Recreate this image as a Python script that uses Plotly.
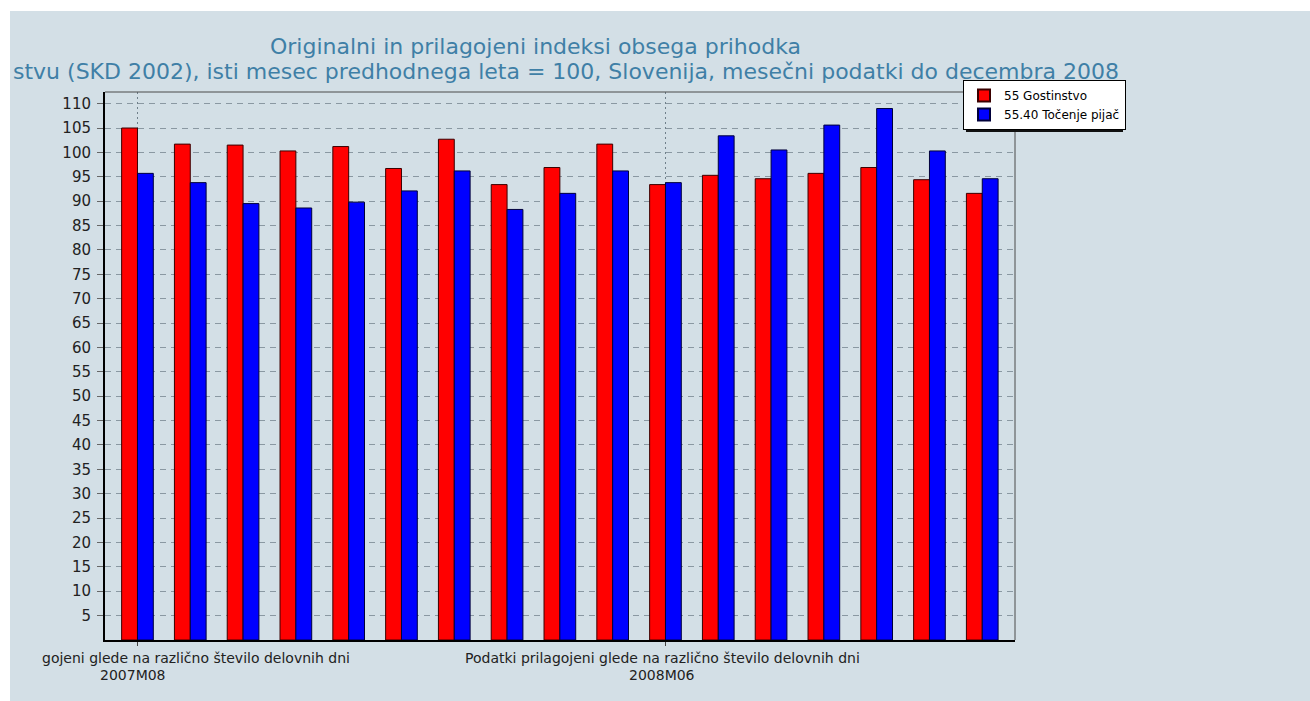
import plotly.graph_objects as go

# ---- data ----
months = ["2007M08", "2007M09", "2007M10", "2007M11", "2007M12",
          "2008M01", "2008M02", "2008M03", "2008M04", "2008M05",
          "2008M06", "2008M07", "2008M08", "2008M09", "2008M10",
          "2008M11", "2008M12"]
gostinstvo = [105.0, 101.7, 101.5, 100.3, 101.2, 96.7, 102.7, 93.4, 96.9,
              101.7, 93.4, 95.3, 94.6, 95.7, 96.9, 94.4, 91.6]
tocenje = [95.7, 93.8, 89.5, 88.6, 89.8, 92.1, 96.2, 88.3, 91.6,
           96.2, 93.8, 103.4, 100.5, 105.6, 109.0, 100.3, 94.6]
series_names = ["55 Gostinstvo", "55.40 Točenje pijač"]
x_tick_vals = ["2007M08", "2008M06"]
x_label_line1 = ["gojeni glede na različno število delovnih dni",
                 "Podatki prilagojeni glede na različno število delovnih dni"]
y_tick_vals = list(range(5, 111, 5))
title_line1 = "Originalni in prilagojeni indeksi obsega prihodka"
title_line2 = ("stvu (SKD 2002), isti mesec predhodnega leta = 100, "
               "Slovenija, mesečni podatki do decembra 2008")

# ---- geometry (page pixels) ----
W_FIG, H_FIG = 1310, 701
L, R, T, B = 105, 1015, 92, 640          # plot area
PW, PH = R - L, B - T


def px_x(p):
    return (p - L) / PW


def px_y(p):
    return (B - p) / PH


BG = "#d3dfe6"
FONT = "DejaVu Sans"
TITLE_COLOR = "#3f7fa6"
TEXT_COLOR = "#222222"

fig = go.Figure()
fig.add_trace(go.Bar(x=months, y=gostinstvo, name=series_names[0],
                     marker=dict(color="#ff0000", line=dict(color="#3a0000", width=1))))
fig.add_trace(go.Bar(x=months, y=tocenje, name=series_names[1],
                     marker=dict(color="#0000ff", line=dict(color="#00003a", width=1))))

LEG_X, LEG_Y = 963, 80  # legend top-left
shapes = [
    # white band top and left
    dict(type="rect", xref="paper", yref="paper", layer="above",
         x0=px_x(0), x1=px_x(W_FIG), y0=px_y(11), y1=px_y(0),
         fillcolor="white", line=dict(width=0)),
    dict(type="rect", xref="paper", yref="paper", layer="above",
         x0=px_x(0), x1=px_x(10), y0=px_y(H_FIG), y1=px_y(0),
         fillcolor="white", line=dict(width=0)),
    # top and right frame lines
    dict(type="line", xref="paper", yref="paper", layer="above",
         x0=0, x1=1, y0=1, y1=1, line=dict(color="#4a4a4a", width=1)),
    dict(type="line", xref="paper", yref="paper", layer="above",
         x0=1, x1=1, y0=0, y1=1, line=dict(color="#4a4a4a", width=1)),
    # legend shadow
    dict(type="rect", xref="paper", yref="paper", layer="above",
         x0=px_x(LEG_X + 3), x1=px_x(LEG_X + 160), y0=px_y(LEG_Y + 52), y1=px_y(LEG_Y + 3),
         fillcolor="#111111", line=dict(width=0)),
]

annotations = [
    dict(text=title_line1, xref="paper", yref="paper", x=px_x(535), y=px_y(47),
         xanchor="center", yanchor="middle", showarrow=False,
         font=dict(family=FONT, size=22, color=TITLE_COLOR)),
    dict(text=title_line2, xref="paper", yref="paper", x=px_x(566), y=px_y(71.5),
         xanchor="center", yanchor="middle", showarrow=False,
         font=dict(family=FONT, size=22, color=TITLE_COLOR)),
    # x-axis labels (first line of each, second line = period)
    dict(text=x_label_line1[0], xref="paper", yref="paper", x=px_x(352), y=px_y(657.5),
         xanchor="right", yanchor="middle", showarrow=False,
         font=dict(family=FONT, size=14, color=TEXT_COLOR)),
    dict(text=x_label_line1[1], xref="x", yref="paper", x=x_tick_vals[1], y=px_y(657.5),
         xanchor="center", yanchor="middle", showarrow=False, xshift=-3,
         font=dict(family=FONT, size=14, color=TEXT_COLOR)),
    dict(text=x_tick_vals[0], xref="x", yref="paper", x=x_tick_vals[0], y=px_y(674.5),
         xanchor="center", yanchor="middle", showarrow=False, xshift=-4,
         font=dict(family=FONT, size=14, color=TEXT_COLOR)),
    dict(text=x_tick_vals[1], xref="x", yref="paper", x=x_tick_vals[1], y=px_y(674.5),
         xanchor="center", yanchor="middle", showarrow=False, xshift=-3,
         font=dict(family=FONT, size=14, color=TEXT_COLOR)),
]

fig.update_layout(
    width=W_FIG, height=H_FIG,
    margin=dict(l=L, r=W_FIG - R, t=T, b=H_FIG - B, pad=0, autoexpand=False),
    paper_bgcolor=BG, plot_bgcolor=BG,
    barmode="group", bargap=0.4, bargroupgap=0,
    font=dict(family=FONT, color=TEXT_COLOR),
    shapes=shapes, annotations=annotations,
    legend=dict(x=px_x(LEG_X), y=px_y(LEG_Y), xanchor="left", yanchor="top",
                bgcolor="white", bordercolor="black", borderwidth=1,
                font=dict(family=FONT, size=12, color="black"),
                tracegroupgap=0, itemsizing="constant"),
    xaxis=dict(type="category", categoryorder="array", categoryarray=months,
               range=[-0.615, 16.62], tickmode="array",
               tickvals=x_tick_vals, showticklabels=False, automargin=False,
               showgrid=True, gridcolor="#6f7f8a", griddash="2px,3px", gridwidth=1,
               ticks="outside", ticklen=4, tickcolor="#444444",
               showline=True, linecolor="black", linewidth=2, zeroline=False),
    yaxis=dict(range=[0, PH / 4.876], tickmode="array", tickvals=y_tick_vals,
               tickfont=dict(family=FONT, size=15, color=TEXT_COLOR),
               automargin=False,
               showgrid=True, gridcolor="#8a98a2", griddash="6px,5px", gridwidth=1,
               ticks="outside", ticklen=6, tickcolor="#666666",
               ticklabelstandoff=3,
               showline=True, linecolor="black", linewidth=2, zeroline=False),
)

fig.write_html("out.html", config={"displayModeBar": False},
               post_script="document.body.style.margin='0';"
                           "document.body.style.overflow='hidden';")
